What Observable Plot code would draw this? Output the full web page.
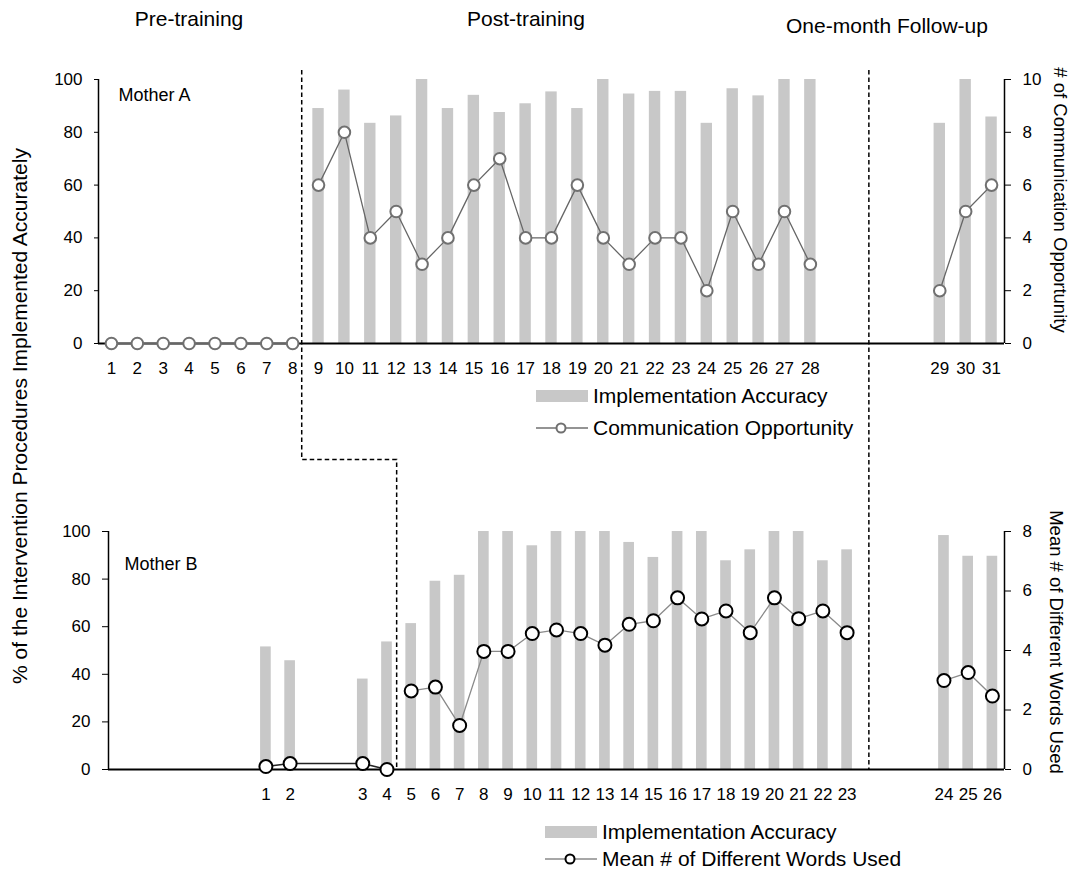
<!DOCTYPE html>
<html><head><meta charset="utf-8">
<script src="https://cdn.jsdelivr.net/npm/d3@7"></script>
<script src="https://cdn.jsdelivr.net/npm/@observablehq/plot@0.6"></script>
<style>
body{margin:0;background:#fff;font-family:"Liberation Sans",Arial,sans-serif;}
#wrap{position:relative;width:1073px;height:873px;overflow:hidden;background:#fff;}
#wrap > svg{position:absolute;left:0;}
</style></head><body><div id="wrap"></div>
<script>
// ---------- Mother A ----------
// x-axis tick labels in order ("" = empty slot)
const ticksA = ["1","2","3","4","5","6","7","8","9","10","11","12","13","14","15","16","17","18","19","20","21","22","23","24","25","26","27","28","","","","","29","30","31"];
const sessionsA = [1,2,3,4,5,6,7,8,9,10,11,12,13,14,15,16,17,18,19,20,21,22,23,24,25,26,27,28,29,30,31];
const phaseA = ["pre","pre","pre","pre","pre","pre","pre","pre",
  "post","post","post","post","post","post","post","post","post","post","post","post","post","post","post","post","post","post","post","post",
  "follow","follow","follow"];
const accuracyA = [0,0,0,0,0,0,0,0, 89,96,83.4,86.2,100,89,94,87.5,90.8,95.3,89,100,94.5,95.5,95.5,83.4,96.5,93.8,100,100, 83.4,100,85.8];
const opportunityA = [0,0,0,0,0,0,0,0, 6,8,4,5,3,4,6,7,4,4,6,4,3,4,4,2,5,3,5,3, 2,5,6];
const rightTicksA = [0,2,4,6,8,10];
const rightMaxA = 10;

// ---------- Mother B ----------
const ticksB = ["","","","","","","1","2","","","3","4","5","6","7","8","9","10","11","12","13","14","15","16","17","18","19","20","21","22","23","","","","24","25","26"];
const sessionsB = [1,2,3,4,5,6,7,8,9,10,11,12,13,14,15,16,17,18,19,20,21,22,23,24,25,26];
const phaseB = ["pre","pre","pre","pre",
  "post","post","post","post","post","post","post","post","post","post","post","post","post","post","post","post","post","post","post",
  "follow","follow","follow"];
const accuracyB = [51.5,45.7,38,53.6, 61.3,79.1,81.6,100,100,94,100,100,100,95.4,89.1,100,100,87.7,92.3,100,100,87.7,92.3, 98.3,89.6,89.6];
const wordsB = [0.1,0.2,0.2,0, 2.64,2.77,1.48,3.97,3.97,4.57,4.69,4.57,4.18,4.88,5.0,5.77,5.06,5.33,4.6,5.77,5.07,5.33,4.6, 2.99,3.26,2.47];
const rightTicksB = [0,2,4,6,8];
const rightMaxB = 8;

const pctTicks = [0,20,40,60,80,100];

const dataA = sessionsA.map((s,i)=>({session:s, slot:ticksA.indexOf(String(s)), phase:phaseA[i], acc:accuracyA[i], sec:opportunityA[i]*100/rightMaxA}));
const dataB = sessionsB.map((s,i)=>({session:s, slot:ticksB.indexOf(String(s)), phase:phaseB[i], acc:accuracyB[i], sec:wordsB[i]*100/rightMaxB}));
const labelledA = ticksA.map((t,i)=>t?i:null).filter(i=>i!==null);
const labelledB = ticksB.map((t,i)=>t?i:null).filter(i=>i!==null);

const FONT = "Liberation Sans, Arial, sans-serif";
const barHalf = 0.22;

const plotA = Plot.plot({
  width:1073, height:470, marginTop:79, marginBottom:127, marginLeft:98, marginRight:69,
  style:{fontFamily:FONT, fontSize:"17px", background:"transparent", color:"#000", overflow:"visible"},
  x:{type:"linear", domain:[-0.5, ticksA.length-0.5]},
  y:{domain:[0,100]},
  marks:[
    Plot.rect(dataA, {x1:d=>d.slot-barHalf, x2:d=>d.slot+barHalf, y1:0, y2:"acc", fill:"#c8c8c8"}),
    Plot.ruleY([0], {stroke:"#000", strokeWidth:2}),
    Plot.ruleX([-0.5, ticksA.length-0.5], {stroke:"#000", strokeWidth:1.5}),
    Plot.axisY({anchor:"left", ticks:pctTicks, tickSize:4, tickPadding:12, label:null}),
    Plot.axisY({anchor:"right", ticks:rightTicksA.map(v=>v*100/rightMaxA), tickFormat:d=>Math.round(d*rightMaxA/100), tickSize:6, tickPadding:12, label:null}),
    Plot.axisX({ticks:labelledA, tickFormat:i=>ticksA[i], tickSize:0, tickPadding:18, label:null}),
    Plot.line(dataA, {x:"slot", y:"sec", z:"phase", stroke:"#666", strokeWidth:1.3}),
    Plot.dot(dataA, {x:"slot", y:"sec", r:5.8, fill:"white", stroke:"#707070", strokeWidth:2}),
    Plot.text(["Mother A"], {frameAnchor:"top-left", text:d=>d, dx:20, dy:9, lineAnchor:"top", textAnchor:"start", fontSize:18})
  ]
});

const plotB = Plot.plot({
  width:1073, height:403, marginTop:61, marginBottom:104, marginLeft:108, marginRight:69,
  style:{fontFamily:FONT, fontSize:"17px", background:"transparent", color:"#000", overflow:"visible"},
  x:{type:"linear", domain:[-0.5, ticksB.length-0.5]},
  y:{domain:[0,100]},
  marks:[
    Plot.rect(dataB, {x1:d=>d.slot-barHalf, x2:d=>d.slot+barHalf, y1:0, y2:"acc", fill:"#c8c8c8"}),
    Plot.ruleY([0], {stroke:"#000", strokeWidth:2}),
    Plot.ruleX([-0.5, ticksB.length-0.5], {stroke:"#000", strokeWidth:1.5}),
    Plot.axisY({anchor:"left", ticks:pctTicks, tickSize:6, tickPadding:12, label:null}),
    Plot.axisY({anchor:"right", ticks:rightTicksB.map(v=>v*100/rightMaxB), tickFormat:d=>Math.round(d*rightMaxB/100), tickSize:6, tickPadding:12, label:null}),
    Plot.axisX({ticks:labelledB, tickFormat:i=>ticksB[i], tickSize:0, tickPadding:18, label:null}),
    Plot.line(dataB.filter(d=>d.phase==="pre"), {x:"slot", y:"sec", stroke:"#222", strokeWidth:1.6}),
    Plot.line(dataB.filter(d=>d.phase!=="pre"), {x:"slot", y:"sec", z:"phase", stroke:"#8a8a8a", strokeWidth:1.3}),
    Plot.dot(dataB, {x:"slot", y:"sec", r:6.5, fill:"white", stroke:"#000", strokeWidth:2}),
    Plot.text(["Mother B"], {frameAnchor:"top-left", text:d=>d, dx:16, dy:26, lineAnchor:"top", textAnchor:"start", fontSize:18})
  ]
});

const wrap = document.getElementById("wrap");
plotA.style.top = "0px";
plotB.style.top = "470px";
wrap.appendChild(plotA);
wrap.appendChild(plotB);

// ---------- overlay: phase lines, titles, legends ----------
const offB = 470;
const xA = plotA.scale("x"), xB = plotB.scale("x"), yB = plotB.scale("y");
const breakA1 = xA.apply(7.37), breakB1 = xB.apply(11.42), breakF = xA.apply(29.28);
const yTop = 70, yJog = 459.5, yBottom = offB + yB.apply(0);

const svg = d3.select(wrap).append("svg")
  .attr("width",1073).attr("height",873)
  .style("position","absolute").style("top","0px").style("left","0px")
  .style("font-family", FONT);

const dash = {stroke:"#000", "stroke-width":1.5, "stroke-dasharray":"4.5,3", fill:"none"};
function applyAttrs(sel, o){ for (const k in o) sel.attr(k,o[k]); return sel; }
applyAttrs(svg.append("path").attr("d",
  `M${breakA1},${yTop}V${yJog}H${breakB1}V${yBottom}`), dash);
applyAttrs(svg.append("path").attr("d", `M${breakF},${yTop}V${yBottom}`), dash);

// phase titles
const titles = [
  {t:"Pre-training", x:189, y:26},
  {t:"Post-training", x:526, y:26},
  {t:"One-month Follow-up", x:887, y:33}
];
svg.selectAll("text.title").data(titles).join("text")
  .attr("x",d=>d.x).attr("y",d=>d.y).attr("text-anchor","middle")
  .attr("font-size",21).text(d=>d.t);

// axis titles
svg.append("text").attr("transform","translate(20,416) rotate(-90)")
  .attr("text-anchor","middle").attr("dy","0.35em").attr("font-size",21)
  .text("% of the Intervention Procedures Implemented Accurately");
svg.append("text").attr("transform","translate(1060,200) rotate(90)")
  .attr("text-anchor","middle").attr("dy","0.35em").attr("font-size",18.5)
  .text("# of Communication Opportunity");
svg.append("text").attr("transform","translate(1056,642) rotate(90)")
  .attr("text-anchor","middle").attr("dy","0.35em").attr("font-size",18.5)
  .text("Mean # of Different Words Used");

// legends
function legend(x0, yBar, yLine, label2, dotStroke, lineStroke){
  svg.append("rect").attr("x",x0).attr("y",yBar-6).attr("width",52).attr("height",12).attr("fill","#c8c8c8");
  svg.append("text").attr("x",x0+57).attr("y",yBar).attr("dy","0.35em").attr("font-size",21).text("Implementation Accuracy");
  svg.append("line").attr("x1",x0).attr("x2",x0+52).attr("y1",yLine).attr("y2",yLine).attr("stroke",lineStroke).attr("stroke-width",1.3);
  svg.append("circle").attr("cx",x0+25).attr("cy",yLine).attr("r",4.5).attr("fill","white").attr("stroke",dotStroke).attr("stroke-width",2);
  svg.append("text").attr("x",x0+57).attr("y",yLine).attr("dy","0.35em").attr("font-size",21).text(label2);
}
legend(536, 396, 428, "Communication Opportunity", "#707070", "#707070");
legend(545, 832, 859, "Mean # of Different Words Used", "#000", "#8a8a8a");
</script></body></html>
